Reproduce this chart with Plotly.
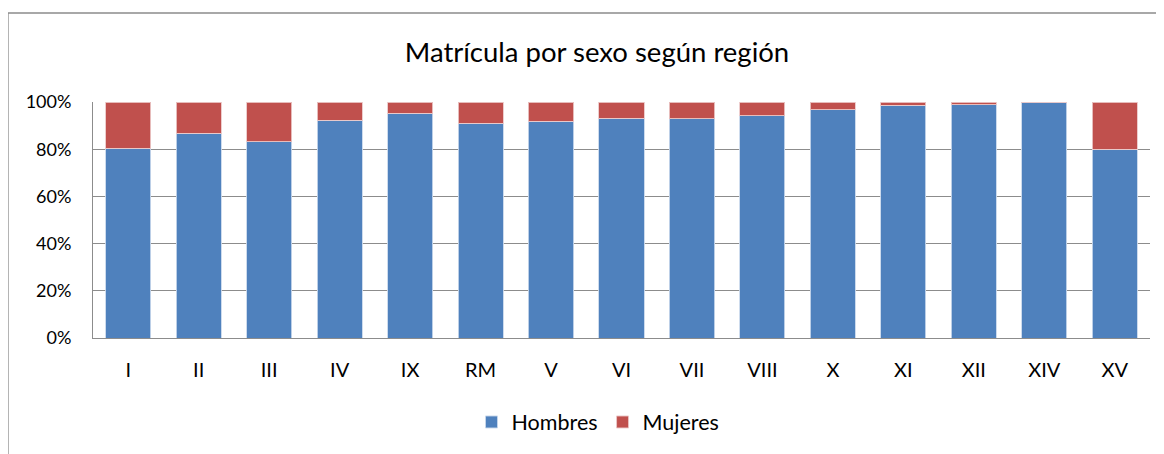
import plotly.graph_objects as go

regiones = ["I", "II", "III", "IV", "IX", "RM", "V", "VI", "VII", "VIII", "X", "XI", "XII", "XIV", "XV"]
hombres = [80.5, 86.7, 83.2, 92.2, 95.2, 91.0, 91.8, 93.1, 93.0, 94.2, 96.7, 98.7, 98.9, 99.8, 80.0]
mujeres = [round(100 - h, 1) for h in hombres]
y_ticks = [0, 20, 40, 60, 80, 100]

FONT = "Lato"
OFF = 8  # page body margin
W, H = 1164 - OFF, 454 - OFF
L, R, T, B = 93 - OFF, 1150 - OFF, 102 - OFF, 338 - OFF
pw, ph = R - L, B - T

fig = go.Figure()
fig.add_bar(x=regiones, y=hombres, name="Hombres",
            marker=dict(color="#4F81BD", line=dict(color="rgba(200,215,235,0.9)", width=1)))
fig.add_bar(x=regiones, y=mujeres, name="Mujeres",
            marker=dict(color="#C0504D", line=dict(color="rgba(235,200,200,0.9)", width=1)))

fig.update_layout(
    barmode="stack",
    bargap=0.36,
    width=W, height=H,
    margin=dict(l=L, r=W - R, t=T, b=H - B, pad=0),
    paper_bgcolor="white", plot_bgcolor="white",
    font=dict(family=FONT, size=18, color="black"),
    title=dict(text="Matrícula por sexo según región", x=(597 - OFF) / W, xanchor="center",
               y=1 - (52 - OFF) / H, yanchor="middle", font=dict(size=27.5, family=FONT, color="black")),
    showlegend=True,
    legend=dict(orientation="h", x=(598 - OFF - L) / pw, xanchor="center",
                y=(B - (422 - OFF)) / ph, yanchor="middle",
                font=dict(size=21.5, family=FONT), traceorder="normal", itemwidth=30,
                bgcolor="rgba(0,0,0,0)"),
    xaxis=dict(showline=True, linecolor="#8C8C8C", linewidth=1, ticks="", showgrid=False,
               tickfont=dict(size=20, family=FONT), ticklabelstandoff=14),
    yaxis=dict(range=[0, 100], tickvals=y_ticks, ticktext=[f"{v}%" for v in y_ticks],
               showgrid=True, gridcolor="#8C8C8C", gridwidth=1, showline=True,
               linecolor="#8C8C8C", linewidth=1, ticks="", tickfont=dict(size=18, family=FONT),
               zeroline=False, ticklabelstandoff=17),
    shapes=[dict(type="rect", xref="paper", yref="paper",
                 x0=(8 - OFF - L) / pw, x1=(1250 - L) / pw,
                 y0=(B - 600) / ph, y1=(B - (13 - OFF)) / ph,
                 line=dict(color="#8C8C8C", width=1.3), fillcolor="rgba(0,0,0,0)", layer="below")],
)

fig.write_html("out.html")
